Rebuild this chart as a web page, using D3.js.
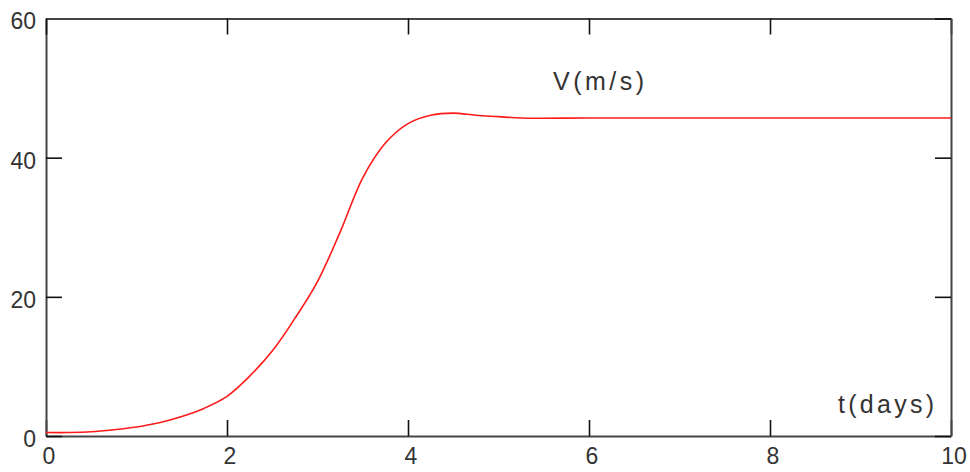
<!DOCTYPE html>
<html>
<head>
<meta charset="utf-8">
<script src="https://cdn.jsdelivr.net/npm/d3@7"></script>
<style>
  body { margin: 0; background: #fff; }
  svg { display: block; }
</style>
</head>
<body>
<div id="chart"></div>
<script>
var margin = {top: 18.5, right: 19, bottom: 36, left: 46},
    width = 970 - margin.left - margin.right,
    height = 472 - margin.top - margin.bottom;

// velocity V (m/s) against time t (days)
var tDays = [0, 0.25, 0.5, 0.75, 1, 1.25, 1.5, 1.75, 2, 2.25, 2.5, 2.75, 3, 3.25, 3.5, 3.75, 4, 4.25, 4.5, 4.75, 5, 5.25, 6, 7, 8, 9, 10];
var velocity = [0.5, 0.5, 0.6, 0.9, 1.3, 1.9, 2.8, 4.0, 5.7, 8.6, 12.2, 16.9, 22.2, 29.3, 37.1, 42.1, 44.9, 46.1, 46.4, 46.1, 45.9, 45.7, 45.7, 45.7, 45.7, 45.7, 45.7];
var xTicks = [0, 2, 4, 6, 8, 10];
var yTicks = [0, 20, 40, 60];

var svg = d3.select("#chart")
  .append("svg")
    .attr("width", width + margin.left + margin.right)
    .attr("height", height + margin.top + margin.bottom)
  .append("g")
    .attr("transform", "translate(" + margin.left + "," + margin.top + ")");

var x = d3.scaleLinear().domain([0, 10]).range([0, width]);
var y = d3.scaleLinear().domain([0, 60]).range([height, 0]);

function styleAxis(g) {
  g.select(".domain").attr("stroke", "#454545").attr("stroke-width", 2);
  g.selectAll(".tick line").attr("stroke", "#111").attr("stroke-width", 1.6);
  g.selectAll(".tick text")
    .attr("fill", "#333")
    .style("font-family", "'Liberation Sans', Arial, sans-serif")
    .style("font-size", "23px");
}

// bottom axis with labels
var gx = svg.append("g")
  .attr("transform", "translate(0," + height + ")")
  .call(d3.axisBottom(x).tickValues(xTicks).tickSize(-16).tickSizeOuter(0).tickPadding(12));
styleAxis(gx);
gx.selectAll(".tick text").attr("dx", 2.5);

// left axis with labels
var gy = svg.append("g")
  .call(d3.axisLeft(y).tickValues(yTicks).tickSize(-16).tickSizeOuter(0).tickPadding(10));
styleAxis(gy);
gy.selectAll(".tick text").attr("dy", "0.45em");

// top and right axes: ticks only
var gt = svg.append("g")
  .call(d3.axisTop(x).tickValues(xTicks).tickSize(-16).tickSizeOuter(0).tickFormat(""));
styleAxis(gt);

var gr = svg.append("g")
  .attr("transform", "translate(" + width + ",0)")
  .call(d3.axisRight(y).tickValues(yTicks).tickSize(-16).tickSizeOuter(0).tickFormat(""));
styleAxis(gr);

var line = d3.line()
  .x(function (d, i) { return x(tDays[i]); })
  .y(function (d) { return y(d); })
  .curve(d3.curveCatmullRom);

svg.append("path")
  .datum(velocity)
  .attr("fill", "none")
  .attr("stroke", "#ff1a1a")
  .attr("stroke-width", 1.6)
  .attr("d", line);

// curve labels
svg.append("text")
  .attr("x", 553 - margin.left)
  .attr("y", 90 - margin.top)
  .attr("textLength", 91)
  .attr("lengthAdjust", "spacing")
  .attr("fill", "#333")
  .style("font-family", "'Liberation Sans', Arial, sans-serif")
  .style("font-size", "25px")
  .text("V(m/s)");

svg.append("text")
  .attr("x", 838 - margin.left)
  .attr("y", 413 - margin.top)
  .attr("textLength", 96)
  .attr("lengthAdjust", "spacing")
  .attr("fill", "#333")
  .style("font-family", "'Liberation Sans', Arial, sans-serif")
  .style("font-size", "25px")
  .text("t(days)");
</script>
</body>
</html>
